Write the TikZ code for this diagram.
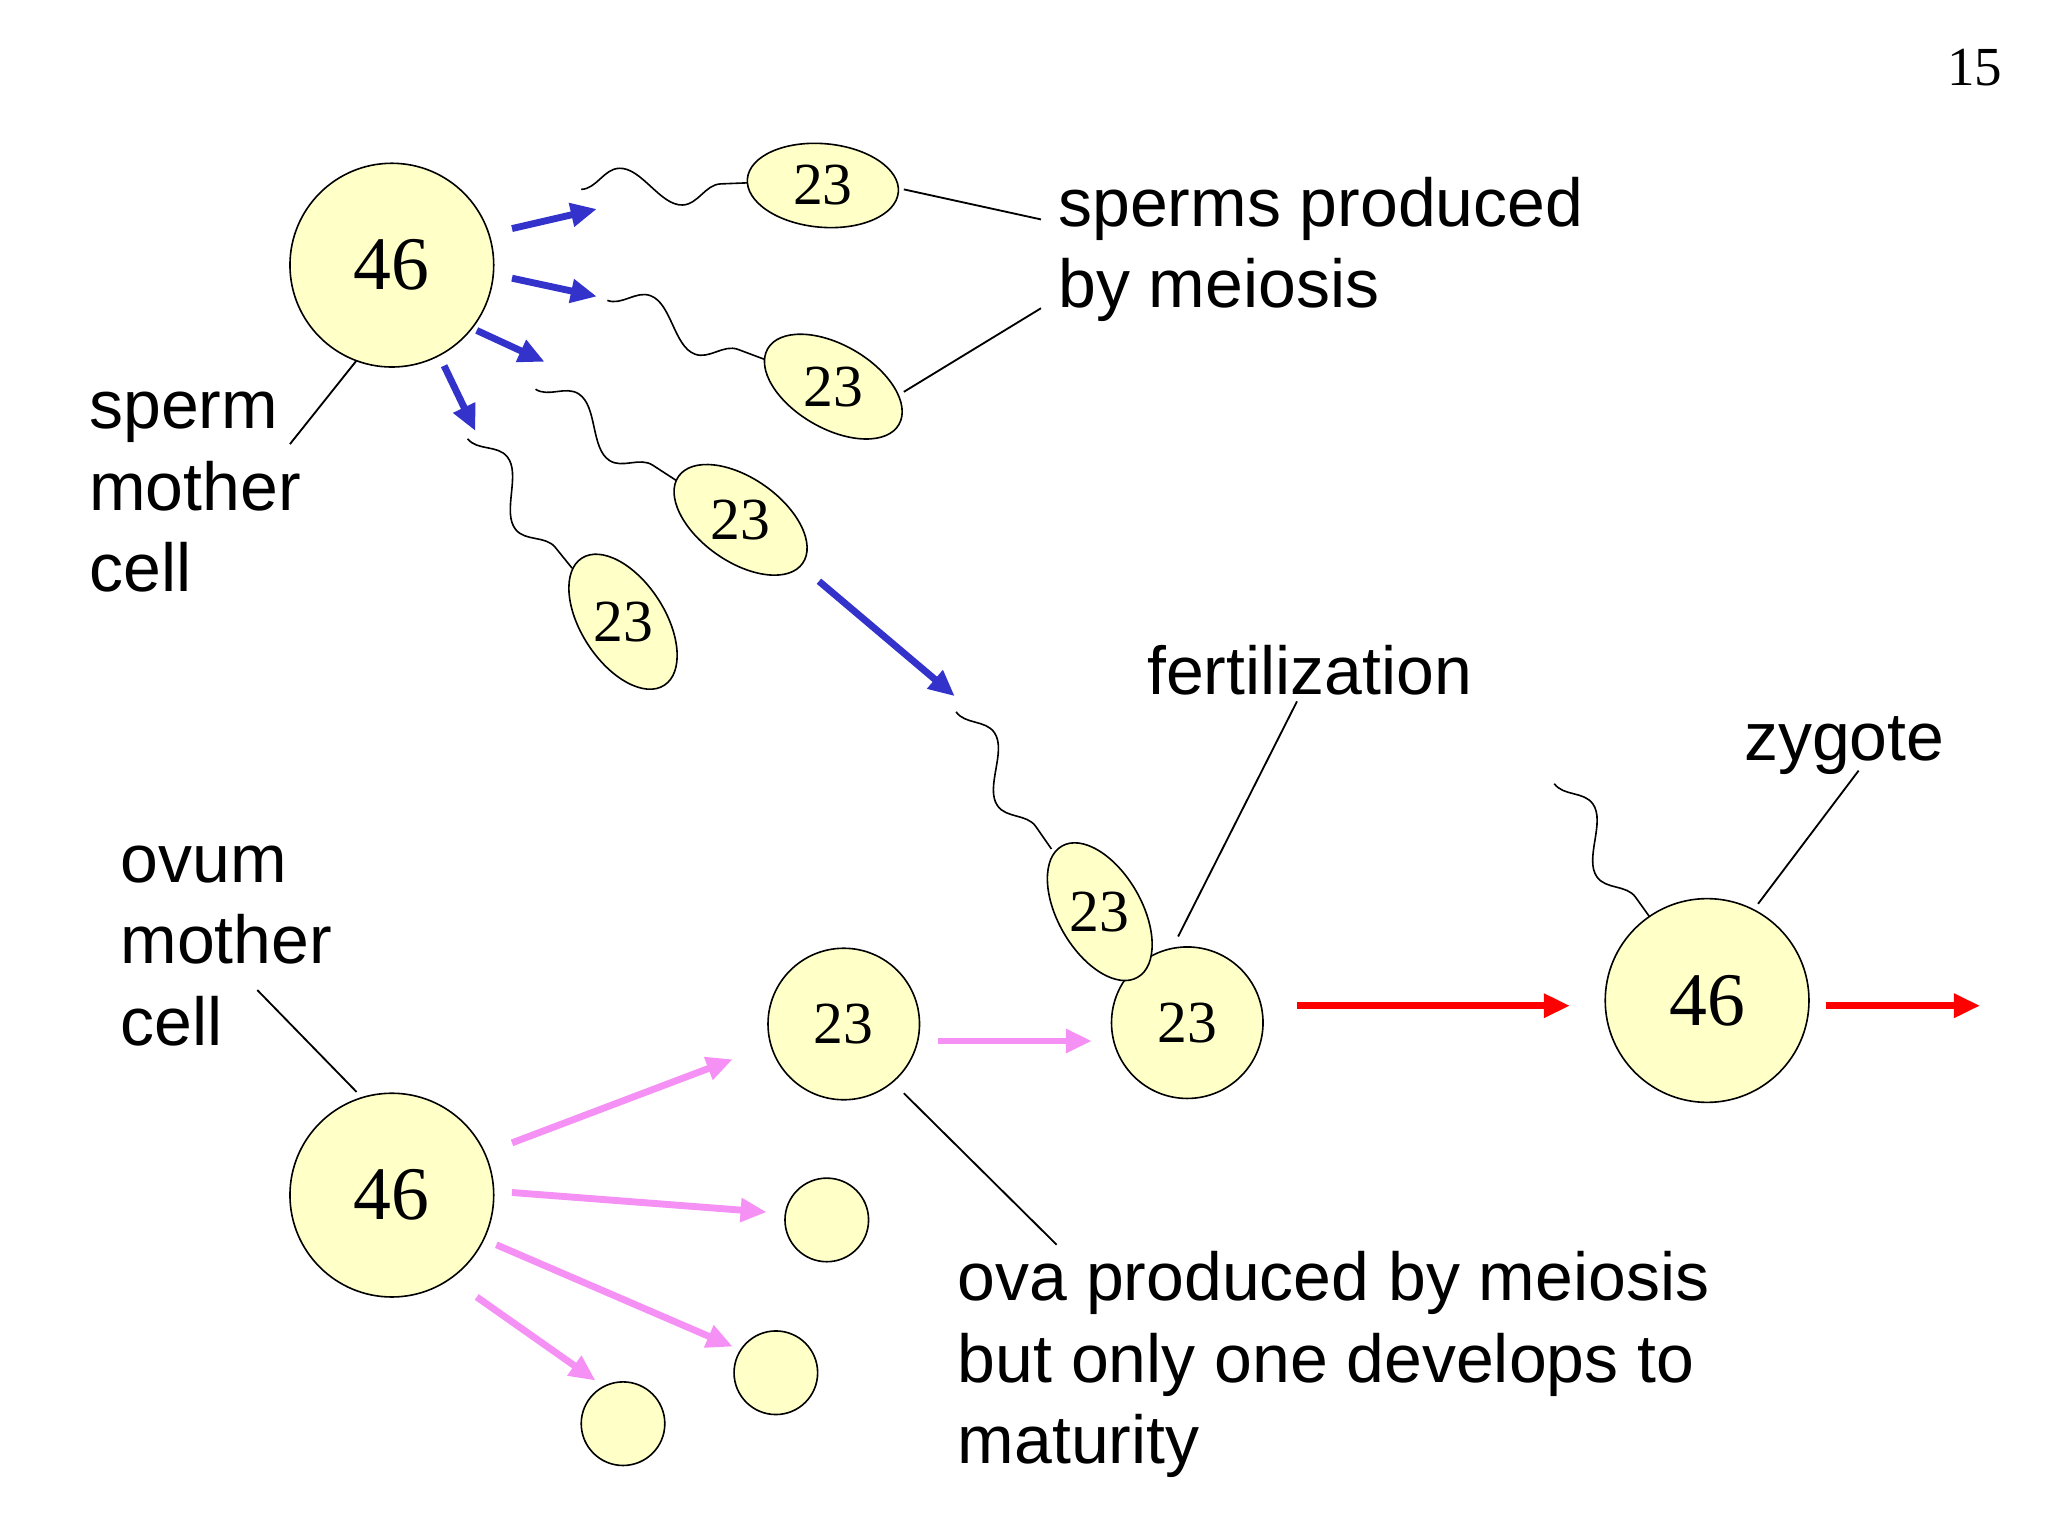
\documentclass[tikz,border=0pt]{standalone}
\usepackage{fontspec}
\setmainfont{Liberation Sans}
\newfontfamily\serifnum{Liberation Serif}
\usetikzlibrary{shapes.geometric,decorations.pathmorphing,arrows.meta}
\begin{document}
\begin{tikzpicture}[x=0.02cm,y=-0.02cm,
  cell/.style={draw=black,line width=0.7pt,fill=cellfill},
  big/.style={cell,circle,minimum size=156*0.02cm,inner sep=0pt,font=\serifnum\fontsize{33}{38}\selectfont},
  mid/.style={cell,circle,minimum size=116*0.02cm,inner sep=0pt,font=\serifnum\fontsize{26}{30}\selectfont},
  small/.style={cell,circle,minimum size=64*0.02cm,inner sep=0pt},
  sp/.style={cell,ellipse,minimum width=116*0.02cm,minimum height=64*0.02cm,inner sep=0pt},
  num/.style={font=\serifnum\fontsize{26}{30}\selectfont},
  tail/.style={draw=black,line width=0.7pt,decorate,decoration={snake,amplitude=0.3cm,segment length=1.9cm}},
  blu/.style={draw={rgb,255:red,51;green,51;blue,204},line width=3pt,-{Triangle[length=0.4cm,width=0.35cm]}},
  pnk/.style={draw={rgb,255:red,245;green,145;blue,245},line width=3pt,-{Triangle[length=0.4cm,width=0.35cm]}},
  rd/.style={draw=red,line width=3pt,-{Triangle[length=0.4cm,width=0.35cm]}},
  lead/.style={draw=black,line width=0.8pt},
  lbl/.style={align=left,anchor=north west,inner sep=0pt,font=\fontsize{29.6}{35.5}\selectfont}]
\definecolor{cellfill}{RGB}{255,255,200}
\useasboundingbox (0,0) rectangle (1568,1176);
\node[font=\serifnum\fontsize{24}{28}\selectfont] (pg) at (1512,52) {15};
\node[big] (sm) at (300,203) {46};
\node[big] (om) at (300,915) {46};
\node[sp,rotate=-5] (s1) at (630,142) {}; \node[num] (t1) at (s1) {23};
\node[sp,rotate=-30] (s2) at (638,296) {}; \node[num] (t2) at (s2) {23};
\node[sp,rotate=-35] (s3) at (567,398) {}; \node[num] (t3) at (s3) {23};
\node[sp,rotate=-57] (s4) at (477,476) {}; \node[num] (t4) at (s4) {23};
\node[mid] (o1) at (646,784) {23};
\node[small] (o2) at (633,934) {};
\node[small] (o3) at (594,1051) {};
\node[small] (o4) at (477,1090) {};
\node[mid] (fo) at (909,783) {23};
\node[sp,rotate=-60] (s5) at (842,698) {}; \node[num] (t5) at (s5) {23};
\node[big] (zy) at (1307,766) {46};
\coordinate (a1) at (445,145); \coordinate (b1) at (572,140);
\coordinate (a2) at (465,230); \coordinate (b2) at (585,275);
\coordinate (a3) at (410,298); \coordinate (b3) at (518,368);
\coordinate (a4) at (358,336); \coordinate (b4) at (438,435);
\coordinate (a5) at (732,545); \coordinate (b5) at (805,650);
\coordinate (a6) at (1190,600); \coordinate (b6) at (1263,702);
\foreach \i in {1,...,6} {\path[tail] (a\i) -- (b\i);}
\coordinate (p1) at (392,175); \coordinate (q1) at (457,160);
\coordinate (p2) at (392,213); \coordinate (q2) at (457,227);
\coordinate (p3) at (365,253); \coordinate (q3) at (417,277);
\coordinate (p4) at (340,280); \coordinate (q4) at (364,330);
\coordinate (p5) at (627,445); \coordinate (q5) at (731,533);
\foreach \i in {1,...,5} {\draw[blu] (p\i) -- (q\i);}
\coordinate (r1) at (392,875); \coordinate (u1) at (561,811);
\coordinate (r2) at (392,913); \coordinate (u2) at (587,928);
\coordinate (r3) at (380,953); \coordinate (u3) at (561,1031);
\coordinate (r4) at (365,993); \coordinate (u4) at (456,1057);
\coordinate (r5) at (718,797); \coordinate (u5) at (836,797);
\foreach \i in {1,...,5} {\draw[pnk] (r\i) -- (u\i);}
\coordinate (e1) at (993,770); \coordinate (f1) at (1202,770);
\coordinate (e2) at (1398,770); \coordinate (f2) at (1516,770);
\draw[rd] (e1) -- (f1); \draw[rd] (e2) -- (f2);
\node[lbl] (l1) at (810,135) {sperms produced\\by meiosis};
\node[lbl] (l2) at (68,300) {sperm\\mother\\cell};
\node[lbl] (l3) at (878,494) {fertilization};
\node[lbl] (l4) at (1335,548) {zygote};
\node[lbl] (l5) at (92,647) {ovum\\mother\\cell};
\node[lbl] (l6) at (733,958) {ova produced by meiosis\\but only one develops to\\maturity};
\coordinate (c1) at (692,145); \coordinate (d1) at (797,168);
\coordinate (c2) at (692,300); \coordinate (d2) at (797,236);
\coordinate (c3) at (222,340); \coordinate (d3) at (273,276);
\coordinate (c4) at (197,758); \coordinate (d4) at (273,836);
\coordinate (c5) at (902,717); \coordinate (d5) at (993,537);
\coordinate (c6) at (1346,692); \coordinate (d6) at (1423,590);
\coordinate (c7) at (692,837); \coordinate (d7) at (809,953);
\foreach \i in {1,...,7} {\draw[lead] (c\i) -- (d\i);}
\end{tikzpicture}
\end{document}
